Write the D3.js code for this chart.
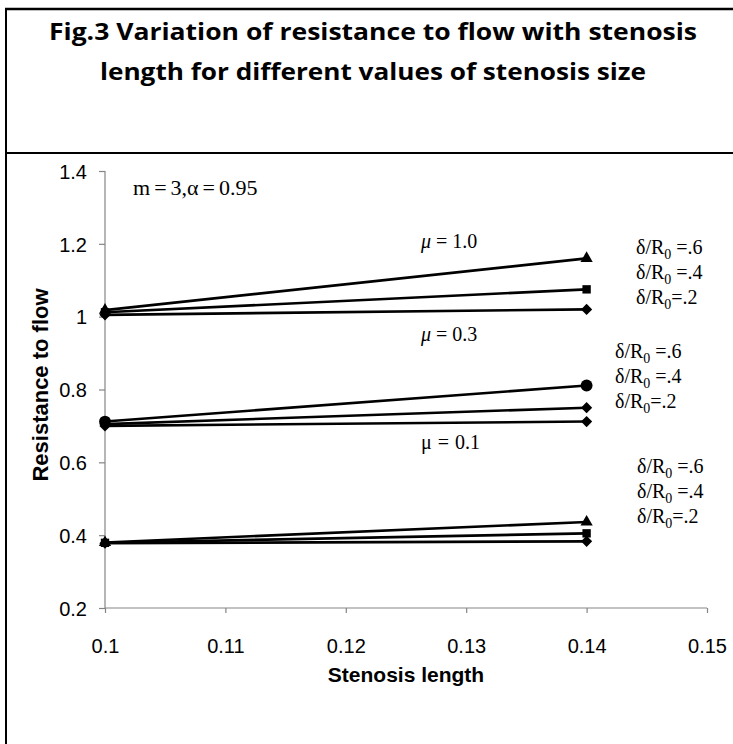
<!DOCTYPE html>
<html><head><meta charset="utf-8">
<script src="https://cdn.jsdelivr.net/npm/d3@7"></script>
<style>body{margin:0;background:#fff}svg{display:block}</style>
</head><body>
<svg id="chart" width="733" height="744"></svg>
<script>
// ---- data ----
const titleLines = ["Fig.3 Variation of resistance to flow with stenosis", "length for different values of stenosis size"];
const xValues = [0.1, 0.14];
const xTicks = [0.1, 0.11, 0.12, 0.13, 0.14, 0.15];
const yTicks = [0.2, 0.4, 0.6, 0.8, 1, 1.2, 1.4];
const seriesNames = ["mu1_d6", "mu1_d4", "mu1_d2", "mu03_d6", "mu03_d4", "mu03_d2", "mu01_d6", "mu01_d4", "mu01_d2"];
const mu1_d6 = [1.018, 1.160];
const mu1_d4 = [1.012, 1.075];
const mu1_d2 = [1.005, 1.020];
const mu03_d6 = [0.712, 0.811];
const mu03_d4 = [0.705, 0.750];
const mu03_d2 = [0.700, 0.712];
const mu01_d6 = [0.380, 0.436];
const mu01_d4 = [0.379, 0.405];
const mu01_d2 = [0.378, 0.383];
const seriesMarkers = ["triangle", "square", "diamond", "circle", "diamond", "diamond", "triangle", "square", "diamond"];
const seriesValues = [mu1_d6, mu1_d4, mu1_d2, mu03_d6, mu03_d4, mu03_d2, mu01_d6, mu01_d4, mu01_d2];
const deltaLabels = [".6", ".4", ".2"];

const svg = d3.select("#chart");
svg.append("rect").attr("width", 733).attr("height", 744).attr("fill", "#fff");

// frame
svg.append("line").attr("x1", 5).attr("x2", 733).attr("y1", 9).attr("y2", 9).attr("stroke", "#000").attr("stroke-width", 2.5);
svg.append("line").attr("x1", 6).attr("x2", 6).attr("y1", 8).attr("y2", 744).attr("stroke", "#000").attr("stroke-width", 2);
svg.append("line").attr("x1", 5).attr("x2", 733).attr("y1", 153).attr("y2", 153).attr("stroke", "#000").attr("stroke-width", 2);

// title
const titleW = [648, 546];
titleLines.forEach((t, i) => {
  svg.append("text").attr("x", 373).attr("y", 40 + i * 40)
    .attr("text-anchor", "middle")
    .attr("font-family", "'Open Sans', Lato, sans-serif").attr("font-weight", "bold").attr("font-size", 24)
    .attr("textLength", titleW[i]).attr("lengthAdjust", "spacingAndGlyphs")
    .attr("fill", "#000").text(t);
});

// scales
const x = d3.scaleLinear().domain([0.1, 0.15]).range([105, 707]);
const y = d3.scaleLinear().domain([0.2, 1.4]).range([608, 171]);
const axisColor = "#858585";

const yAxis = svg.append("g").attr("transform", "translate(105,0)")
  .call(d3.axisLeft(y).tickValues(yTicks).tickSize(6).tickPadding(12).tickFormat(d => d3.format("")(d)));
const xAxis = svg.append("g").attr("transform", "translate(0,608)")
  .call(d3.axisBottom(x).tickValues(xTicks).tickSize(5).tickPadding(26).tickFormat(d => d3.format("")(+d.toFixed(2))));
[yAxis, xAxis].forEach(g => {
  g.attr("font-size", 20).attr("font-family", "'Liberation Sans', Arial, sans-serif");
  g.selectAll("path, line").attr("stroke", axisColor).attr("stroke-width", 1.2);
  g.selectAll("text").attr("font-family", "'Liberation Sans', Arial, sans-serif").attr("font-size", 20).attr("fill", "#000");
  g.select("path.domain").attr("d", null);
});
yAxis.selectAll(".tick text").attr("dy", "0.36em");
yAxis.append("line").attr("y1", 171).attr("y2", 608).attr("stroke", axisColor).attr("stroke-width", 1.2);
xAxis.append("line").attr("x1", 105).attr("x2", 707).attr("stroke", axisColor).attr("stroke-width", 1.2);

// axis titles
svg.append("text").attr("x", 406).attr("y", 682).attr("text-anchor", "middle")
  .attr("font-family", "'Liberation Sans', Arial, sans-serif").attr("font-weight", "bold").attr("font-size", 21)
  .text("Stenosis length");
svg.append("text").attr("transform", "translate(48,385) rotate(-90)").attr("text-anchor", "middle")
  .attr("font-family", "'Liberation Sans', Arial, sans-serif").attr("font-weight", "bold").attr("font-size", 22)
  .text("Resistance to flow");

// series
const line = d3.line().x((d, i) => x(xValues[i])).y(d => y(d));
const symType = {
  triangle: d3.symbolTriangle,
  square: d3.symbolSquare,
  diamond: d3.symbolDiamond2 || d3.symbolDiamond,
  circle: d3.symbolCircle
};
const symSize = { triangle: 65, square: 70, diamond: 80, circle: 110 };
seriesValues.forEach((vals, si) => {
  svg.append("path").datum(vals).attr("d", line).attr("fill", "none").attr("stroke", "#000").attr("stroke-width", 2.6);
});
seriesValues.forEach((vals, si) => {
  const m = seriesMarkers[si];
  svg.selectAll(null).data(vals).enter().append("path")
    .attr("d", d3.symbol().type(symType[m]).size(symSize[m]))
    .attr("transform", (d, i) => `translate(${x(xValues[i])},${y(d)})`)
    .attr("fill", "#000");
});

// annotations
const serif = "'Liberation Serif', 'Times New Roman', serif";
function eqText(xp, yp, parts, fs) {
  const t = svg.append("text").attr("x", xp).attr("y", yp).attr("font-family", serif).attr("font-size", fs || 20).attr("fill", "#000");
  parts.forEach(p => {
    const s = t.append("tspan").text(p.t);
    if (p.it) s.attr("font-style", "italic");
    if (p.dx) s.attr("dx", p.dx);
  });
  return t;
}
eqText(133, 195, [{ t: "m" }, { t: "=", dx: 4 }, { t: "3,", dx: 4 }, { t: "α" }, { t: "=", dx: 4 }, { t: "0.95", dx: 4 }], 22);
eqText(421, 248, [{ t: "μ", it: true }, { t: "=", dx: 5 }, { t: "1.0", dx: 5 }]);
eqText(421, 341, [{ t: "μ", it: true }, { t: "=", dx: 5 }, { t: "0.3", dx: 5 }]);
eqText(421, 449, [{ t: "μ" }, { t: "=", dx: 6 }, { t: "0.1", dx: 6 }]);

function deltaLabel(xp, yp, val, spaced) {
  const t = svg.append("text").attr("x", xp).attr("y", yp).attr("font-family", serif).attr("font-size", 20).attr("fill", "#000");
  t.append("tspan").text("δ/R");
  t.append("tspan").attr("dy", 5).attr("font-size", 14).text("0");
  t.append("tspan").attr("dy", -5).text((spaced ? " =" : "=") + val);
}
const groupLabelPos = [[636, 254], [615, 358], [637, 473]];
groupLabelPos.forEach(([gx, gy]) => {
  deltaLabels.forEach((v, k) => deltaLabel(gx, gy + k * 25, v, k < 2));
});
</script>
</body></html>
